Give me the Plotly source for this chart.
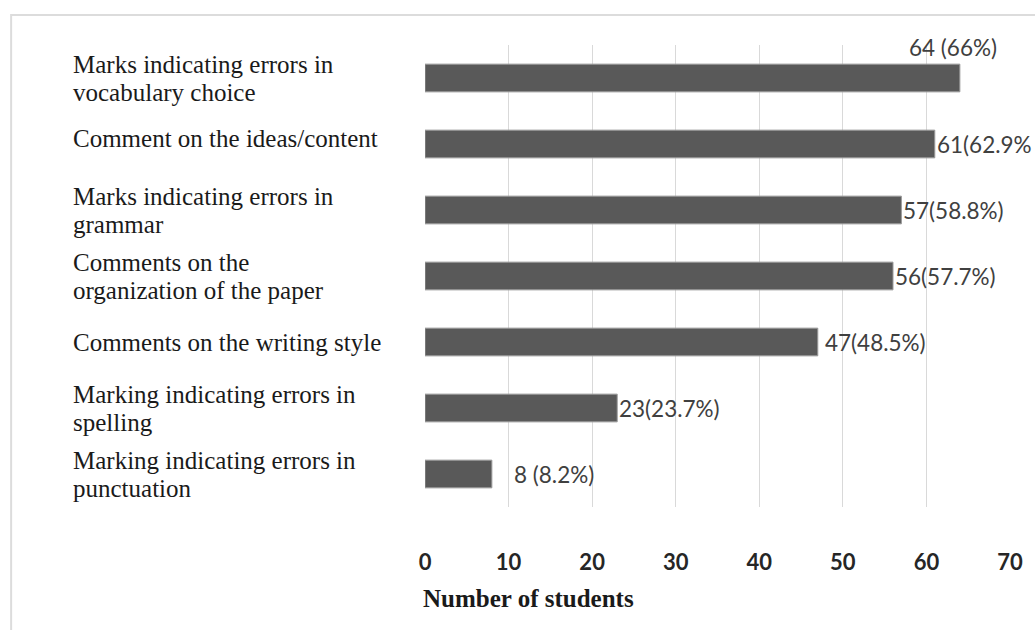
import plotly.graph_objects as go

categories = [
    "Marks indicating errors in<br>vocabulary choice",
    "Comment on the ideas/content",
    "Marks indicating errors in<br>grammar",
    "Comments on the<br>organization of the paper",
    "Comments on the writing style",
    "Marking indicating errors in<br>spelling",
    "Marking indicating errors in<br>punctuation",
]
students = [64, 61, 57, 56, 47, 23, 8]
value_labels = ["64 (66%)", "61(62.9%", "57(58.8%)", "56(57.7%)",
                "47(48.5%)", "23(23.7%)", "8 (8.2%)"]
x_ticks = [0, 10, 20, 30, 40, 50, 60, 70]
x_title = "Number of students"

W, H = 1035, 630
ML, MR, MT, MB = 425, 22, 45, 123
PW = W - ML - MR
PH = H - MT - MB


def px_to_paper_x(px):
    return (px - ML) / PW


def px_to_paper_y(py):
    return (H - MB - py) / PH


fig = go.Figure()
fig.add_trace(go.Bar(
    x=students,
    y=categories,
    orientation="h",
    width=0.42,
    marker=dict(color="#595959", line=dict(color="#9a9a9a", width=1)),
    hoverinfo="skip",
))

annotations = []
# category labels, left aligned
serif = dict(family="Liberation Serif, Times New Roman, serif", size=25, color="#1a1a1a")
for cat in categories:
    lines = cat.split("<br>")
    n = len(lines)
    for i, line in enumerate(lines):
        shift = (n - 1) / 2 * 28 - i * 28
        if n == 1 and cat.startswith("Comment on"):
            shift += 6
        annotations.append(dict(
            x=px_to_paper_x(69), xref="paper", y=cat, yref="y",
            text=line, showarrow=False, xanchor="left", yanchor="middle",
            yshift=shift, font=serif,
        ))

# value labels
label_font = dict(family="Lato, sans-serif", size=22.5, color="#404040")
for i, (v, cat, lab) in enumerate(zip(students, categories, value_labels)):
    if i == 0:
        annotations.append(dict(x=v, y=cat, xref="x", yref="y", text=lab,
                                showarrow=False, xanchor="center", yanchor="middle",
                                xshift=-7, yshift=31, font=label_font))
    else:
        xs = 20 if v < 10 else (5 if v == 47 else 0)
        annotations.append(dict(x=v, y=cat, xref="x", yref="y", text=lab,
                                showarrow=False, xanchor="left", yanchor="middle",
                                xshift=xs, font=label_font))

annotations.append(dict(
    x=px_to_paper_x(421), xref="paper", y=px_to_paper_y(598), yref="paper",
    text="<b>" + x_title + "</b>", showarrow=False, xanchor="left", yanchor="middle",
    font=dict(family="Liberation Serif, Times New Roman, serif", size=25, color="#1a1a1a"),
))

fig.update_layout(
    width=W, height=H,
    margin=dict(l=ML, r=MR, t=MT, b=MB, pad=0),
    paper_bgcolor="white", plot_bgcolor="white",
    showlegend=False,
    annotations=annotations,
    shapes=[dict(type="rect", xref="paper", yref="paper",
                 x0=px_to_paper_x(9), x1=px_to_paper_x(1045),
                 y0=px_to_paper_y(645), y1=px_to_paper_y(15),
                 line=dict(color="#dcdcdc", width=2), fillcolor="rgba(0,0,0,0)",
                 layer="below")],
    xaxis=dict(
        range=[0, 70], tickvals=x_ticks, showgrid=True, gridcolor="#d9d9d9", gridwidth=1,
        zeroline=False, showline=False, ticks="",
        tickfont=dict(family="Lato, sans-serif", size=22, color="#262626", weight="bold"),
        ticklabelstandoff=40,
    ),
    yaxis=dict(
        categoryorder="array", categoryarray=categories, range=[6.5, -0.5],
        showticklabels=False, showgrid=False, zeroline=False, showline=False, ticks="",
    ),
)

fig.write_html("out.html", config={"displayModeBar": False},
               post_script="document.body.style.margin='0';document.body.style.overflow='hidden';")
